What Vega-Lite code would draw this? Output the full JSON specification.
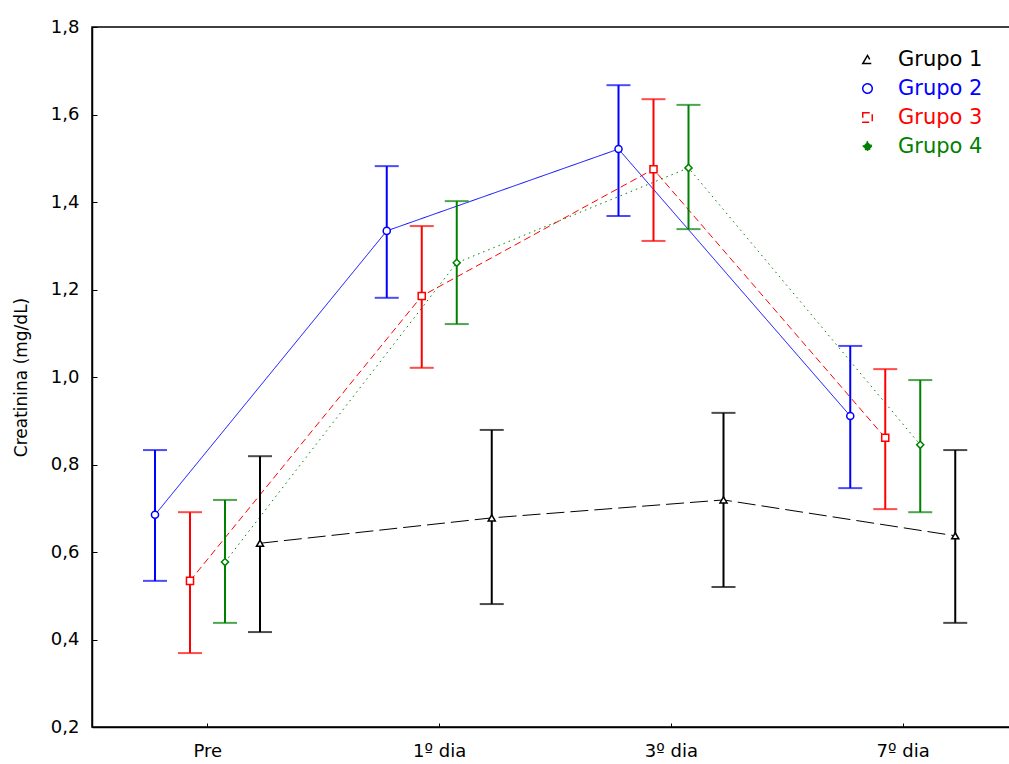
{
  "$schema": "https://vega.github.io/schema/vega-lite/v6.json",
  "autosize": "none",
  "width": 927,
  "height": 700,
  "padding": {"left": 92, "top": 27, "right": 0, "bottom": 37},
  "background": "white",
  "config": {
    "view": {"stroke": "black", "strokeWidth": 1.5},
    "font": "DejaVu Sans"
  },
  "data": {
    "values": [
      {"grupo": "Grupo 1", "tempo": "Pre", "media": 0.62, "lo": 0.417, "hi": 0.819},
      {"grupo": "Grupo 1", "tempo": "1º dia", "media": 0.678, "lo": 0.481, "hi": 0.879},
      {"grupo": "Grupo 1", "tempo": "3º dia", "media": 0.719, "lo": 0.52, "hi": 0.918},
      {"grupo": "Grupo 1", "tempo": "7º dia", "media": 0.637, "lo": 0.438, "hi": 0.833},
      {"grupo": "Grupo 2", "tempo": "Pre", "media": 0.685, "lo": 0.534, "hi": 0.833},
      {"grupo": "Grupo 2", "tempo": "1º dia", "media": 1.334, "lo": 1.181, "hi": 1.482},
      {"grupo": "Grupo 2", "tempo": "3º dia", "media": 1.521, "lo": 1.368, "hi": 1.667},
      {"grupo": "Grupo 2", "tempo": "7º dia", "media": 0.911, "lo": 0.746, "hi": 1.071},
      {"grupo": "Grupo 3", "tempo": "Pre", "media": 0.534, "lo": 0.369, "hi": 0.691},
      {"grupo": "Grupo 3", "tempo": "1º dia", "media": 1.185, "lo": 1.021, "hi": 1.345},
      {"grupo": "Grupo 3", "tempo": "3º dia", "media": 1.475, "lo": 1.311, "hi": 1.635},
      {"grupo": "Grupo 3", "tempo": "7º dia", "media": 0.861, "lo": 0.698, "hi": 1.018},
      {"grupo": "Grupo 4", "tempo": "Pre", "media": 0.577, "lo": 0.438, "hi": 0.719},
      {"grupo": "Grupo 4", "tempo": "1º dia", "media": 1.261, "lo": 1.121, "hi": 1.402},
      {"grupo": "Grupo 4", "tempo": "3º dia", "media": 1.478, "lo": 1.338, "hi": 1.622},
      {"grupo": "Grupo 4", "tempo": "7º dia", "media": 0.845, "lo": 0.691, "hi": 0.993}
    ]
  },
  "encoding": {
    "x": {
      "field": "tempo", "type": "nominal",
      "sort": ["Pre", "1º dia", "3º dia", "7º dia"],
      "scale": {"paddingInner": 0, "paddingOuter": 0},
      "axis": {
        "title": null, "labelAngle": 0, "labelFontSize": 18, "labelColor": "black",
        "domainColor": "black", "domainWidth": 1.5, "tickColor": "black", "tickSize": -4,
        "labelPadding": 19, "grid": false
      }
    },
    "xOffset": {
      "field": "grupo", "type": "nominal",
      "sort": ["Grupo 2", "Grupo 3", "Grupo 4", "Grupo 1"],
      "scale": {"type": "point", "range": [63, 168], "padding": 0}
    },
    "color": {
      "field": "grupo", "type": "nominal",
      "scale": {"domain": ["Grupo 1", "Grupo 2", "Grupo 3", "Grupo 4"], "range": ["#000000", "#0000ff", "#ff0000", "#008000"]},
      "legend": {
        "title": null, "orient": "none", "legendX": 765, "legendY": 22,
        "labelFontSize": 21, "symbolSize": 90, "symbolStrokeWidth": 1.5,
        "rowPadding": 7, "labelOffset": 20,
        "encode": {
          "labels": {"update": {"fill": {"scale": "color", "field": "value"}}},
          "symbols": {"update": {
            "fill": {"scale": "color", "field": "value"},
            "fillOpacity": [{"test": "datum.value === 'Grupo 4'", "value": 1}, {"value": 0}],
            "strokeOpacity": {"value": 1}, "stroke": {"scale": "color", "field": "value"},
            "strokeWidth": {"value": 1.5}, "strokeDash": {"value": [1, 0]}
          }}
        }
      }
    }
  },
  "layer": [
    {
      "mark": {"type": "line", "strokeWidth": 1},
      "encoding": {
        "y": {
          "field": "media", "type": "quantitative",
          "scale": {"domain": [0.2, 1.8], "nice": false, "zero": false},
          "axis": {
            "title": "Creatinina (mg/dL)", "titleFontSize": 17, "titleFontWeight": "normal", "titleColor": "black",
            "titlePadding": 20,
            "values": [0.2, 0.4, 0.6, 0.8, 1.0, 1.2, 1.4, 1.6, 1.8],
            "labelExpr": "replace(format(datum.value, '.1f'), '.', ',')",
            "labelFontSize": 18, "labelColor": "black", "grid": false,
            "domainColor": "black", "domainWidth": 1.5, "tickColor": "black", "tickSize": -5,
            "labelPadding": 18
          }
        },
        "strokeDash": {
          "field": "grupo", "type": "nominal",
          "scale": {"domain": ["Grupo 1", "Grupo 2", "Grupo 3", "Grupo 4"], "range": [[18, 6], [1, 0], [7, 4], [1.5, 4]]},
          "legend": null
        }
      }
    },
    {
      "mark": {"type": "rule", "strokeWidth": 2},
      "encoding": {
        "y": {"field": "lo", "type": "quantitative"},
        "y2": {"field": "hi"}
      }
    },
    {
      "mark": {"type": "tick", "thickness": 2, "size": 24, "orient": "horizontal"},
      "encoding": {"y": {"field": "lo", "type": "quantitative"}}
    },
    {
      "mark": {"type": "tick", "thickness": 2, "size": 24, "orient": "horizontal"},
      "encoding": {"y": {"field": "hi", "type": "quantitative"}}
    },
    {
      "mark": {"type": "point", "filled": false, "fill": "white", "fillOpacity": 1, "size": 50, "strokeWidth": 1.5, "opacity": 1},
      "encoding": {
        "y": {"field": "media", "type": "quantitative"},
        "shape": {
          "field": "grupo", "type": "nominal",
          "scale": {"domain": ["Grupo 1", "Grupo 2", "Grupo 3", "Grupo 4"], "range": ["triangle-up", "circle", "square", "diamond"]},
          "legend": {
            "title": null, "orient": "none", "legendX": 765, "legendY": 22,
            "labelFontSize": 21, "symbolSize": 90, "symbolStrokeWidth": 1.5,
            "rowPadding": 7, "labelOffset": 20,
            "encode": {
              "labels": {"update": {"fill": {"scale": "color", "field": "value"}}},
              "symbols": {"update": {
                "fill": {"scale": "color", "field": "value"},
                "fillOpacity": [{"test": "datum.value === 'Grupo 4'", "value": 1}, {"value": 0}],
                "strokeOpacity": {"value": 1}, "stroke": {"scale": "color", "field": "value"},
                "strokeWidth": {"value": 1.5}, "strokeDash": {"value": [1, 0]}
              }}
            }
          }
        }
      }
    }
  ]
}
